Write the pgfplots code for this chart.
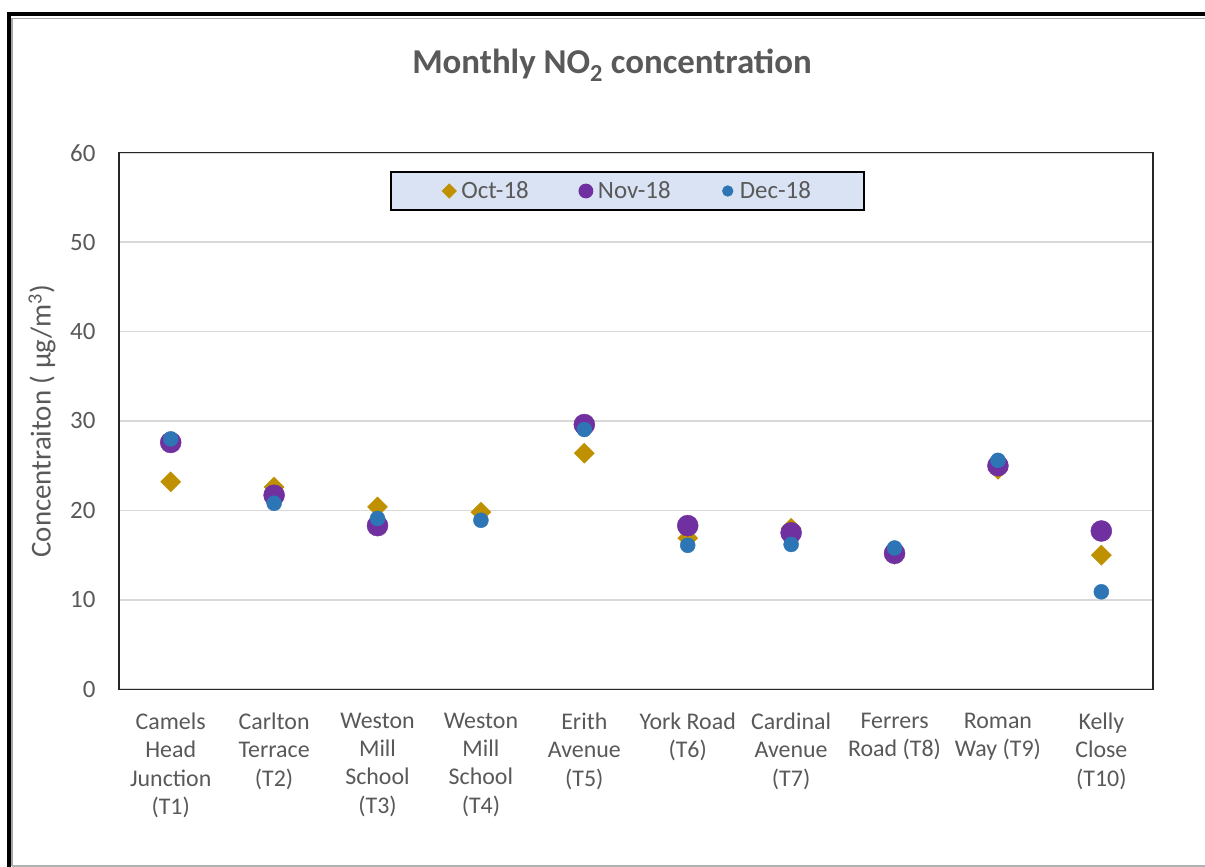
\documentclass[border=0pt]{standalone}
\usepackage{pgfplots}
\pgfplotsset{compat=1.18}
\usepackage{fontspec}
\setmainfont{Carlito}
\definecolor{oct}{HTML}{BF9000}
\definecolor{nov}{HTML}{7030A0}
\definecolor{dec}{HTML}{2E75B6}
\definecolor{txt}{HTML}{595959}
\definecolor{leg}{HTML}{DAE3F3}
\definecolor{gridc}{HTML}{D9D9D9}

\pgfplotstableread{
x oct nov dec
0 23.2 27.6 28.0
1 22.6 21.7 20.8
2 20.4 18.3 19.1
3 19.8 nan 18.9
4 26.4 29.6 29.05
5 16.9 18.3 16.1
6 18.0 17.5 16.2
7 15.1 15.2 15.8
8 24.6 25.0 25.6
9 15.0 17.7 10.9
}\datatable

\begin{document}
\begin{tikzpicture}[x=1bp,y=1bp]
\useasboundingbox (0,0) rectangle (1205,867);
\fill[white] (0,0) rectangle (1205,867);
% outer frame
\draw[black, line width=4bp] (8.5,0) -- (8.5,852.5) -- (1205,852.5);
\draw[gray!70, line width=1.5bp] (12,1) -- (12,848.5) -- (1205,848.5);
\draw[gray!60, line width=1.2bp] (12,1) -- (1205,1);
\begin{axis}[
  at={(119bp,177.7bp)}, anchor=south west,
  scale only axis, width=1034bp, height=536.6bp,
  xmin=-0.5, xmax=9.5, ymin=0, ymax=60,
  ytick={0,10,...,60},
  xtick={0,...,9},
  xticklabels={{Camels\\Head\\Junction\\(T1)},{Carlton\\Terrace\\(T2)},{Weston\\Mill\\School\\(T3)},{Weston\\Mill\\School\\(T4)},{Erith\\Avenue\\(T5)},{York Road\\(T6)},{Cardinal\\Avenue\\(T7)},{Ferrers\\Road (T8)},{Roman\\Way (T9)},{Kelly\\Close\\(T10)}},
  xticklabel style={align=center, anchor=north, font=\fontsize{24}{28.5}\selectfont, text=txt, yshift=-20bp},
  yticklabel style={font=\fontsize{25}{30}\selectfont, text=txt, xshift=-20bp},
  /pgf/number format/assume math mode=true,
  major tick length=0pt,
  ymajorgrids, grid style={gridc, line width=1.8bp},
  axis line style={line width=1.3bp, black!85},
  title={\textbf{Monthly NO\textsubscript{2} concentration}},
  title style={at={(axis description cs:0.4768,1.152)}, anchor=center, font=\fontsize{35}{41}\selectfont, text=txt},
  ylabel={Concentraiton ( µg/m\textsuperscript{3})},
  ylabel style={at={(axis description cs:-0.0745,0.5)}, anchor=center, font=\fontsize{29}{34}\selectfont, text=txt},
  legend columns=3,
  legend style={at={(axis description cs:0.4918,0.9286)}, anchor=center, draw=black, line width=2.2bp, fill=leg,
    font=\fontsize{25}{30}\selectfont, text=txt, inner xsep=51bp, inner ysep=8bp,
    /tikz/every even column/.append style={column sep=48bp}},
  legend image code/.code={\draw[#1,/tikz/every mark/.append style={scale=0.6}] plot coordinates {(0bp,0bp)}; \path (-6bp,0) (9bp,0);},
  legend cell align=left,
]
\addplot[only marks, mark=square*, mark size=7.1bp, mark options={rotate=45, fill=oct, draw=oct}] table[x=x, y=oct] {\datatable};
\addlegendentry{Oct-18}
\addplot[only marks, mark=*, mark size=10.5bp, mark options={fill=nov, draw=nov}] table[x=x, y=nov] {\datatable};
\addlegendentry{Nov-18}
\addplot[only marks, mark=*, mark size=7.5bp, mark options={fill=dec, draw=dec}] table[x=x, y=dec] {\datatable};
\addlegendentry{Dec-18}
\end{axis}
\end{tikzpicture}
\end{document}
